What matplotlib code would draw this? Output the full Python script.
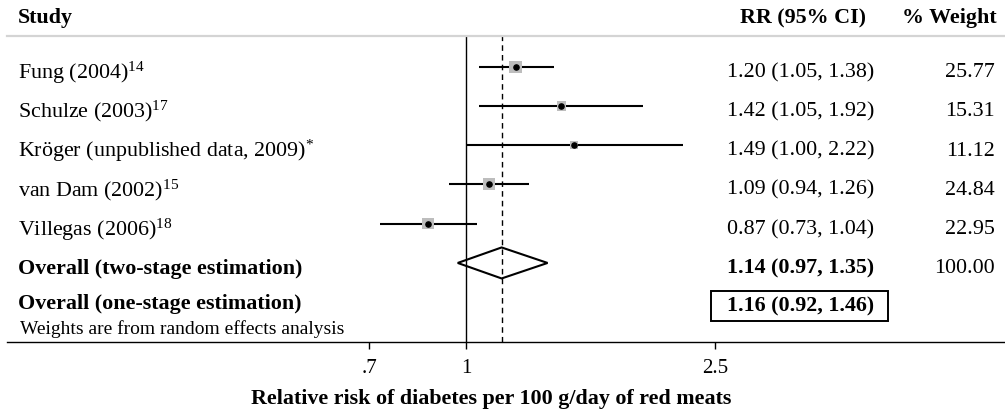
import matplotlib
matplotlib.use("Agg")
import matplotlib.pyplot as plt
from matplotlib.patches import Polygon, Rectangle
from matplotlib.transforms import blended_transform_factory
import numpy as np

# ---------------- data ----------------
studies = ["Fung (2004)", "Schulze (2003)", "Kröger (unpublished data, 2009)",
           "van Dam (2002)", "Villegas (2006)"]
refs = ["14", "17", "*", "15", "18"]
rr = [1.20, 1.42, 1.49, 1.09, 0.87]
lo = [1.05, 1.05, 1.00, 0.94, 0.73]
hi = [1.38, 1.92, 2.22, 1.26, 1.04]
weights = [25.77, 15.31, 11.12, 24.84, 22.95]

overall2_label = "Overall (two-stage estimation)"
overall2 = [1.14, 0.97, 1.35]
overall2_weight = 100.00
overall1_label = "Overall (one-stage estimation)"
overall1 = [1.16, 0.92, 1.46]
note = "Weights are from random effects analysis"

xticks = [0.7, 1.0, 2.5]
xticklabels = [".7", "1", "2.5"]
xlabel = "Relative risk of diabetes per 100 g/day of red meats"

# ---------------- style ----------------
plt.rcParams["font.family"] = ["Liberation Serif", "DejaVu Serif"]
plt.rcParams["mathtext.fontset"] = "custom"
plt.rcParams["mathtext.rm"] = "Liberation Serif"
plt.rcParams["mathtext.it"] = "Liberation Serif:italic"
plt.rcParams["mathtext.bf"] = "Liberation Serif:bold"
plt.rcParams["mathtext.default"] = "regular"

W, H = 1005, 416
fig = plt.figure(figsize=(W / 100, H / 100), dpi=100)

def fx(px):
    return px / W

ax_left, ax_right = 7, 1005
ax_top, ax_bottom = 36, 342
ax = fig.add_axes([fx(ax_left), 1 - ax_bottom / H, (ax_right - ax_left) / W,
                   (ax_bottom - ax_top) / H])
ax.set_xscale("log")
px_per_ln = 271.8
x_one = 466
ax.set_xlim(np.exp((ax_left - x_one) / px_per_ln), np.exp((ax_right - x_one) / px_per_ln))
row0, rowstep = 66.7, 39.25
ax.set_ylim((ax_bottom - row0) / rowstep, (ax_top - row0) / rowstep)

def prow(py):
    return (py - row0) / rowstep

for s in ["left", "right"]:
    ax.spines[s].set_visible(False)
ax.spines["top"].set_color("#d4d4d4")
ax.spines["top"].set_linewidth(1.6)
ax.spines["bottom"].set_linewidth(1.0)
ax.set_yticks([])
ax.xaxis.set_minor_locator(matplotlib.ticker.NullLocator())
ax.set_xticks(xticks)
ax.set_xticklabels(xticklabels, fontsize=15)
ax.tick_params(axis="x", direction="out", length=5, width=1.0, pad=7.5)
ax.patch.set_alpha(0)

# reference lines
ax.axvline(1.0, color="black", lw=1.0, zorder=1)
ax.axvline(overall2[0], color="black", lw=1.0, ls=(0, (4, 3)), zorder=1)

# study rows
rows = np.arange(len(studies))
ax.hlines(rows, lo, hi, color="black", lw=1.5, zorder=2)
ax.scatter(rr, rows, marker="s", s=np.array(weights) * 3.0, color="#bdbdbd",
           edgecolors="none", zorder=3)
ax.scatter(rr, rows, marker="o", s=14, color="black", zorder=4)

# diamond for two-stage overall
r2 = len(studies)
est, l2, h2 = overall2
hh = 0.395
diamond = Polygon([[l2, r2], [est, r2 - hh], [h2, r2], [est, r2 + hh]],
                  closed=True, fill=False, edgecolor="black", lw=1.5, zorder=3)
ax.add_patch(diamond)

# text columns
tr = blended_transform_factory(fig.transFigure, ax.transData)
fs = 15.8
toff = 0.15
x_study = fx(18)
x_rr = fx(727)
x_w = fx(995)

hy = prow(18)
ax.text(x_study, hy, "Study", transform=tr, ha="left", va="center",
        fontsize=fs, fontweight="bold", clip_on=False)
ax.text(fx(866), hy, "RR (95% CI)", transform=tr, ha="right",
        va="center", fontsize=fs, fontweight="bold", clip_on=False)
ax.text(fx(997), hy, "% Weight", transform=tr, ha="right",
        va="center", fontsize=fs, fontweight="bold", clip_on=False)

for i in range(len(studies)):
    ax.text(x_study, i + toff, f"{studies[i]}$^{{{refs[i]}}}$", transform=tr, ha="left",
            va="center", fontsize=fs, clip_on=False)
    ax.text(x_rr, i + toff, f"{rr[i]:.2f} ({lo[i]:.2f}, {hi[i]:.2f})", transform=tr,
            ha="left", va="center", fontsize=fs, clip_on=False)
    ax.text(x_w, i + toff, f"{weights[i]:.2f}", transform=tr, ha="right", va="center",
            fontsize=fs, clip_on=False)

ax.text(x_study, r2 + toff, overall2_label, transform=tr, ha="left", va="center",
        fontsize=fs, fontweight="bold", clip_on=False)
ax.text(x_rr, r2 + toff, f"{overall2[0]:.2f} ({overall2[1]:.2f}, {overall2[2]:.2f})",
        transform=tr, ha="left", va="center", fontsize=fs, fontweight="bold", clip_on=False)
ax.text(x_w, r2 + toff, f"{overall2_weight:.2f}", transform=tr, ha="right", va="center",
        fontsize=fs, clip_on=False)

ax.text(x_study, prow(304), overall1_label, transform=tr, ha="left", va="center",
        fontsize=fs, fontweight="bold", clip_on=False)
ax.text(x_rr, prow(306), f"{overall1[0]:.2f} ({overall1[1]:.2f}, {overall1[2]:.2f})",
        transform=tr, ha="left", va="center", fontsize=fs, fontweight="bold", clip_on=False)
box_top = prow(290.7)
box_bot = prow(321)
ax.add_patch(Rectangle((fx(711), box_top), fx(888) - fx(711), box_bot - box_top,
                       transform=tr, fill=False, edgecolor="black", lw=1.4,
                       clip_on=False))

ax.text(fx(20), prow(329), note, transform=tr, ha="left", va="center",
        fontsize=14, clip_on=False)

fig.text(fx(491), 1 - 399 / H, xlabel, ha="center", va="center", fontsize=15.8,
         fontweight="bold")

fig.savefig("out.png", dpi=100)
